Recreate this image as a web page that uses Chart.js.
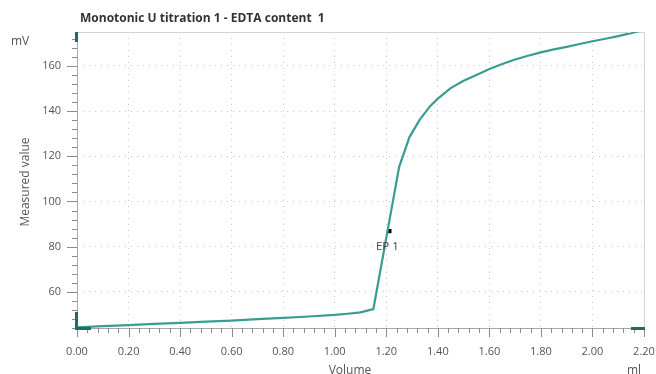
<!DOCTYPE html>
<html>
<head>
<meta charset="utf-8">
<script src="https://cdn.jsdelivr.net/npm/chart.js@4/dist/chart.umd.min.js"></script>
<style>
  html, body { margin: 0; padding: 0; background: #fff; }
  #wrap { width: 656px; height: 374px; position: relative; }
</style>
</head>
<body>
<div id="wrap"><canvas id="c" width="656" height="374"></canvas></div>
<script>
// Titration curve: dosed volume (ml) against measured potential (mV)
const volume = [0.00, 0.10, 0.20, 0.30, 0.40, 0.50, 0.60, 0.70, 0.80, 0.90, 1.00, 1.05, 1.10, 1.15,
                1.25, 1.29, 1.33, 1.37, 1.40, 1.45, 1.50, 1.55, 1.60, 1.65, 1.70, 1.75, 1.80,
                1.85, 1.90, 1.95, 2.00, 2.05, 2.10, 2.15, 2.20];
const potential = [44.3, 44.8, 45.3, 45.8, 46.3, 46.8, 47.3, 47.9, 48.5, 49.1, 49.8, 50.3, 50.9, 52.4,
                   115.3, 128.5, 136.2, 142.2, 145.5, 150.2, 153.4, 156.0, 158.6, 160.8, 162.8, 164.5, 166.0,
                   167.3, 168.4, 169.7, 170.9, 172.0, 173.2, 174.5, 176.0];

// Equivalence point
const epVolume = [1.212];
const epPotential = [86.9];
const epLabels = ['EP 1'];

// Axis ticks
const xTicks = [0.00, 0.20, 0.40, 0.60, 0.80, 1.00, 1.20, 1.40, 1.60, 1.80, 2.00, 2.20];
const yTicks = [60, 80, 100, 120, 140, 160];
const xMinorStep = 0.04;
const yMinorStep = 4;

const titleText = 'Monotonic U titration 1 - EDTA content  1';
const xTitle = 'Volume';
const xUnit = 'ml';
const yTitle = 'Measured value';
const yUnit = 'mV';

const FONT = '"Open Sans", "Noto Sans", sans-serif';
const CURVE = '#3a9d92';
const HANDLE = '#1d6e64';

const curvePoints = volume.map((v, i) => ({ x: v, y: potential[i] }));
const epPoints = epVolume.map((v, i) => ({ x: v, y: epPotential[i] }));

// Axis lines, tick marks, frame, handles and annotations
const decor = {
  id: 'decor',
  beforeDatasetsDraw(chart) {
    const { ctx, chartArea: a, scales: { x, y } } = chart;
    ctx.save();
    // frame (top and right)
    ctx.strokeStyle = '#d4d4d4';
    ctx.lineWidth = 1;
    ctx.beginPath();
    ctx.moveTo(a.left, a.top + 0.5);
    ctx.lineTo(a.right + 0.5, a.top + 0.5);
    ctx.lineTo(a.right + 0.5, a.bottom);
    ctx.stroke();
    // axis lines
    ctx.strokeStyle = '#a8a8a8';
    ctx.beginPath();
    ctx.moveTo(a.left + 0.5, a.top);
    ctx.lineTo(a.left + 0.5, a.bottom + 0.5);
    ctx.lineTo(a.right, a.bottom + 0.5);
    ctx.stroke();
    // tick marks
    ctx.strokeStyle = '#8c8c8c';
    ctx.beginPath();
    const xMin = x.min, xMax = x.max;
    for (let k = 0; ; k++) {
      const v = Math.round((xMin + k * xMinorStep) * 1000) / 1000;
      if (v > xMax + 1e-9) break;
      const px = Math.round(x.getPixelForValue(v)) + 0.5;
      const major = xTicks.some(t => Math.abs(t - v) < 1e-6);
      ctx.moveTo(px, a.bottom);
      ctx.lineTo(px, a.bottom + (major ? 9 : 5));
    }
    const yStart = Math.ceil(y.min / yMinorStep) * yMinorStep;
    for (let v = yStart; v <= y.max; v += yMinorStep) {
      const py = Math.round(y.getPixelForValue(v)) + 0.5;
      const major = yTicks.includes(v);
      ctx.moveTo(a.left, py);
      ctx.lineTo(a.left - (major ? 10 : 5), py);
    }
    ctx.stroke();
    ctx.restore();
  },
  afterDraw(chart) {
    const { ctx, chartArea: a } = chart;
    ctx.save();
    // scroll handles at the axis ends
    ctx.fillStyle = HANDLE;
    ctx.fillRect(a.left - 2, a.top, 3, 10);
    ctx.fillRect(a.left - 2, a.bottom - 16, 3, 17);
    ctx.fillRect(a.left - 2, a.bottom - 1, 16, 3);
    ctx.fillRect(a.right - 13, a.bottom - 1, 14, 3);

    // texts
    ctx.textBaseline = 'middle';
    ctx.fillStyle = '#333';
    ctx.font = 'bold 12px ' + FONT;
    ctx.textAlign = 'left';
    ctx.fillText(titleText, a.left + 3, 19);

    ctx.fillStyle = '#555';
    ctx.font = '12px ' + FONT;
    ctx.fillText(yUnit, 11, 42);
    ctx.textAlign = 'center';
    ctx.fillText(xTitle, 350, 371);
    ctx.fillText(xUnit, a.right - 10, 371);

    ctx.save();
    ctx.translate(26, 182);
    ctx.rotate(-Math.PI / 2);
    ctx.fillText(yTitle, 0, 0);
    ctx.restore();

    // EP label below its marker
    const meta = chart.getDatasetMeta(1);
    ctx.fillStyle = '#444';
    ctx.font = '11.5px ' + FONT;
    meta.data.forEach((pt, i) => {
      ctx.fillText(epLabels[i], pt.x - 2, pt.y + 16);
    });
    ctx.restore();
  }
};

new Chart(document.getElementById('c'), {
  type: 'scatter',
  data: {
    datasets: [
      {
        data: curvePoints,
        showLine: true,
        borderColor: CURVE,
        borderWidth: 2.2,
        pointRadius: 0,
        tension: 0
      },
      {
        data: epPoints,
        showLine: false,
        pointStyle: 'rect',
        pointRadius: 3,
        backgroundColor: '#000',
        borderColor: '#000',
        borderWidth: 0
      }
    ]
  },
  options: {
    responsive: false,
    animation: false,
    devicePixelRatio: 1,
    layout: { padding: { top: 32, right: 12, left: 0, bottom: 0 } },
    plugins: { legend: { display: false }, tooltip: { enabled: false } },
    scales: {
      x: {
        type: 'linear',
        min: 0,
        max: 2.2,
        afterBuildTicks: s => { s.ticks = xTicks.map(v => ({ value: v })); },
        afterFit: s => { s.height = 46; s.paddingLeft = 0; s.paddingRight = 0; },
        border: { display: false, dash: [1, 5] },
        grid: { color: '#c9c9c9', lineWidth: 1, drawTicks: false },
        ticks: {
          color: '#555',
          font: { family: FONT, size: 11 },
          padding: 17,
          maxRotation: 0,
          autoSkip: false,
          callback: v => Number(v).toFixed(2)
        }
      },
      y: {
        type: 'linear',
        min: 44,
        max: 175,
        afterBuildTicks: s => { s.ticks = yTicks.map(v => ({ value: v })); },
        afterFit: s => { s.width = 77; s.paddingTop = 0; s.paddingBottom = 0; },
        border: { display: false, dash: [1, 5] },
        grid: { color: '#c9c9c9', lineWidth: 1, drawTicks: false },
        ticks: {
          color: '#555',
          font: { family: FONT, size: 11 },
          padding: 16,
          autoSkip: false
        }
      }
    }
  },
  plugins: [decor]
});
</script>
</body>
</html>
